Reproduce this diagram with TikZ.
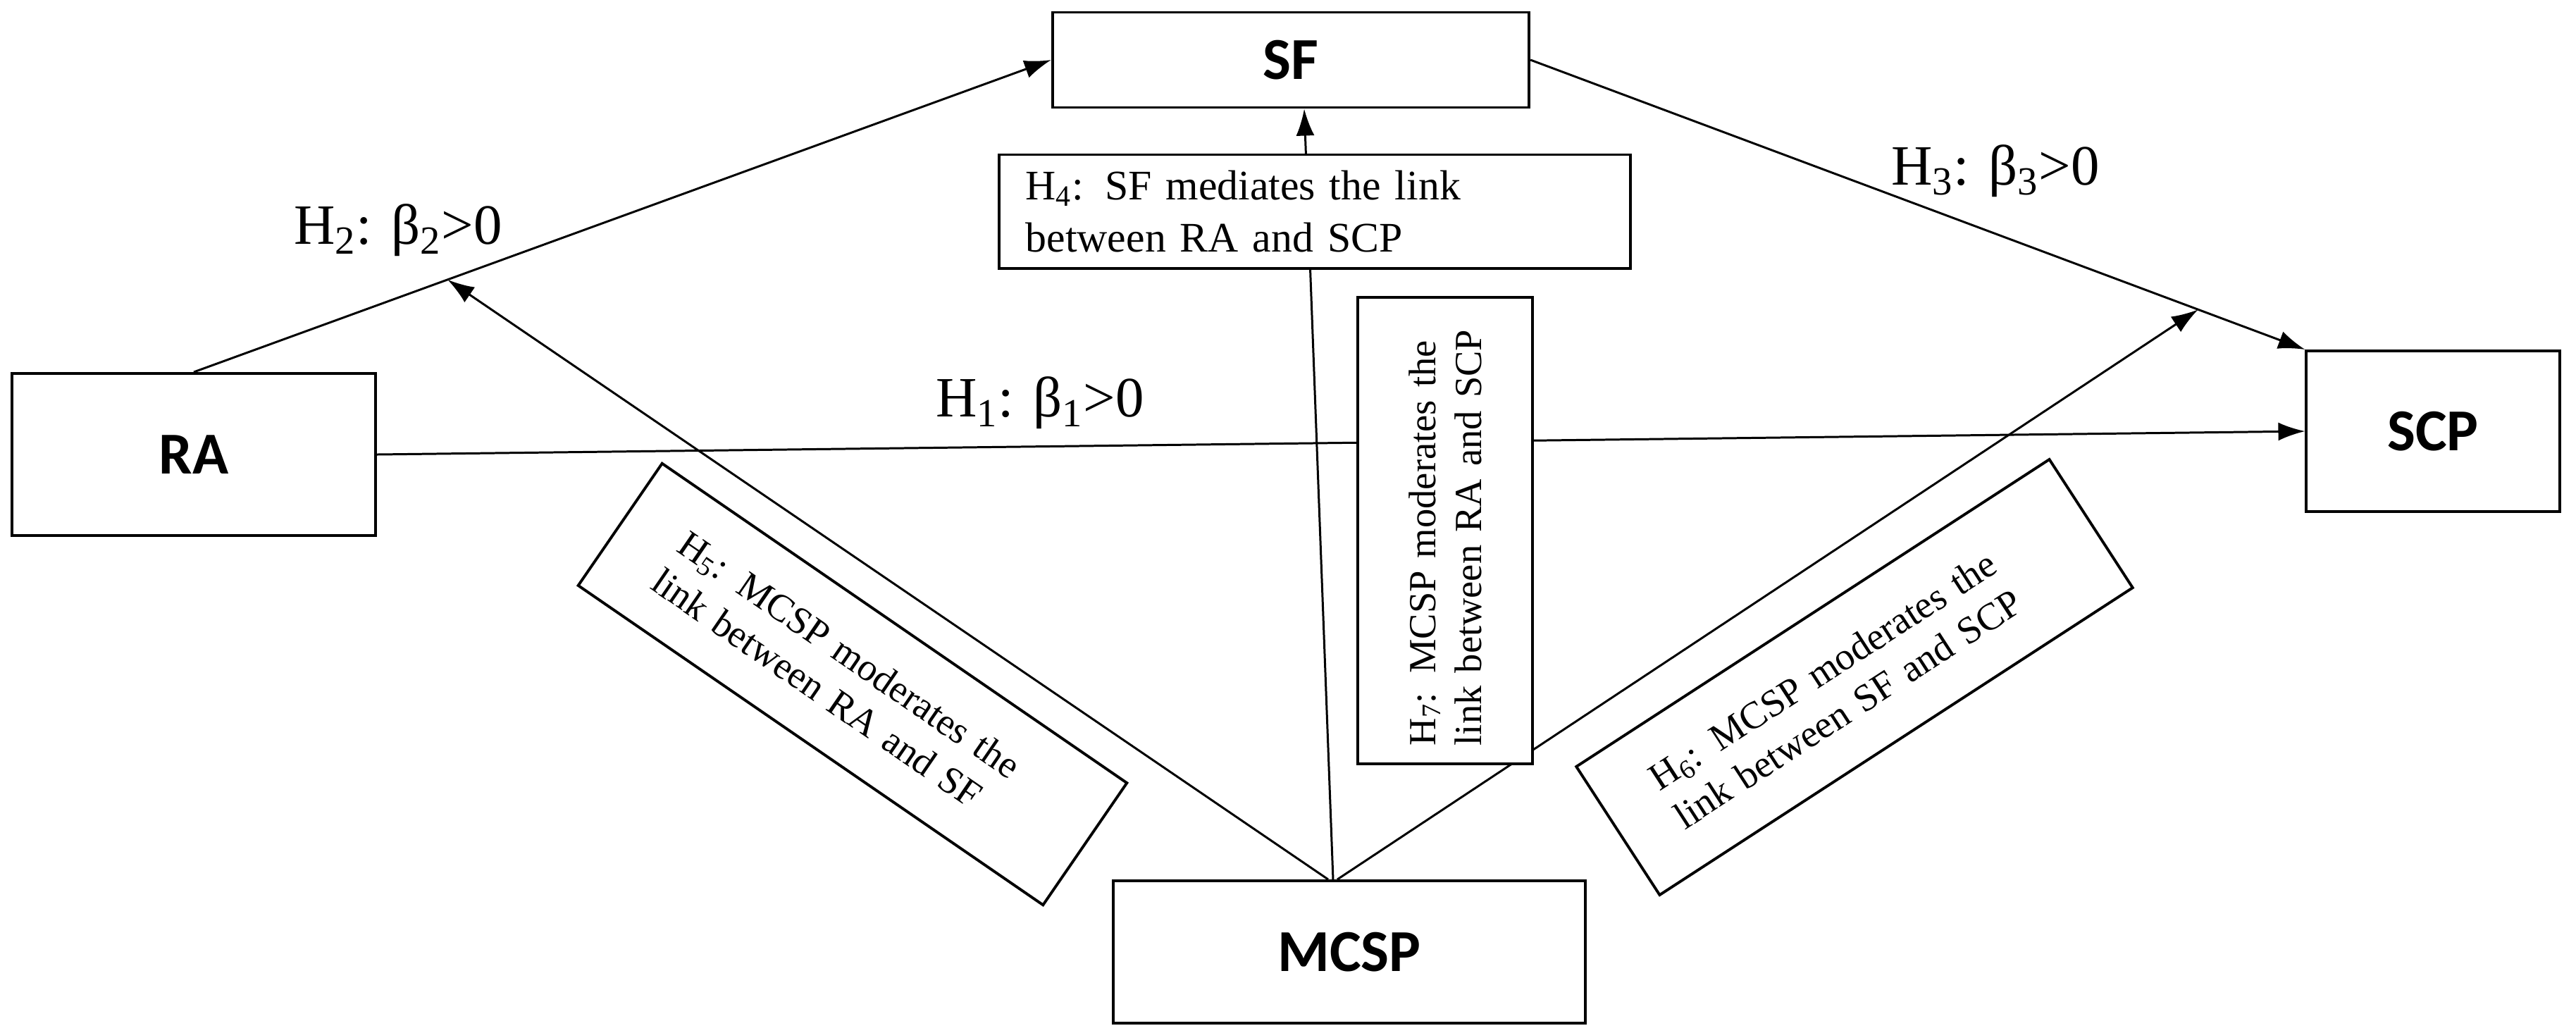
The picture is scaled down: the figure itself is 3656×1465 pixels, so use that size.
\documentclass[tikz,border=0pt]{standalone}
\usepackage{fontspec}
\setmainfont{Liberation Serif}
\newfontfamily\boxfont{Carlito}
\usetikzlibrary{arrows.meta}
\begin{document}
\begin{tikzpicture}[x=0.01cm,y=-0.01cm,
  var/.style={draw,line width=1.1pt,fill=white,inner sep=0pt,font=\boxfont\bfseries\fontsize{24}{28}\selectfont},
  hyp/.style={draw,line width=1.1pt,fill=white,inner sep=0pt,align=left,font=\fontsize{15.5}{18.5}\selectfont},
  lab/.style={font=\fontsize{23}{26}\selectfont},
  arr/.style={line width=0.85pt,-{Latex[length=0.38cm,width=0.26cm]}},
  ln/.style={line width=0.85pt}]
\useasboundingbox (0,0) rectangle (3656,1465);
% variable boxes
\node[var,minimum width=5.15cm,minimum height=2.3cm] (RA) at (275,645) {RA};
\node[var,minimum width=6.76cm,minimum height=1.35cm] (SF) at (1832,85) {SF};
\node[var,minimum width=3.59cm,minimum height=2.28cm] (SCP) at (3453,612) {SCP};
\node[var,minimum width=6.69cm,minimum height=2.02cm] (MCSP) at (1915,1351) {MCSP};
% helper points on paths
\path (RA.north) -- (SF.west) coordinate[pos=0.296] (h5tip);
\path (SF.east) -- (SCP.north west) coordinate[pos=0.862] (h6tip);
\coordinate (mL) at ([xshift=-0.3cm]MCSP.north);
\coordinate (mC) at ([xshift=-0.23cm]MCSP.north);
\coordinate (mR) at ([xshift=-0.17cm]MCSP.north);
% connectors
\draw[arr] (RA.north) -- (SF.west);
\draw[arr] (SF.east) -- (SCP.north west);
\draw[arr] (RA.east) -- (SCP.west);
\draw[arr] (mL) -- (h5tip);
\draw[arr] (mR) -- (h6tip);
\draw[arr] (mC) -- ([xshift=0.19cm]SF.south);
% hypothesis boxes
\node[hyp,minimum width=8.96cm,minimum height=1.61cm,text width=8.2cm,font=\fontsize{17}{21}\selectfont] (H4) at (1866,300)
  {H\textsubscript{4}: SF mediates the link\\between RA and SCP};
\node[hyp,rotate=90,minimum width=6.61cm,minimum height=2.48cm,text width=6.1cm] (H7) at (2051,753)
  {H\textsubscript{7}: MCSP moderates the\\link between RA and SCP};
\node[hyp,rotate=-34.5,minimum width=8.0cm,minimum height=2.1cm,text width=6.3cm] (H5) at (1210,971)
  {H\textsubscript{5}: MCSP moderates the\\link between RA and SF};
\node[hyp,rotate=33,minimum width=8.0cm,minimum height=2.17cm,text width=6.4cm] (H6) at (2632,961)
  {H\textsubscript{6}: MCSP moderates the\\link between SF and SCP};
% path labels
\node[lab] (L2) at (565,327) {H\textsubscript{2}: β\textsubscript{2}>0};
\node[lab] (L1) at (1476,572) {H\textsubscript{1}: β\textsubscript{1}>0};
\node[lab] (L3) at (2832,243) {H\textsubscript{3}: β\textsubscript{3}>0};
\end{tikzpicture}
\end{document}
